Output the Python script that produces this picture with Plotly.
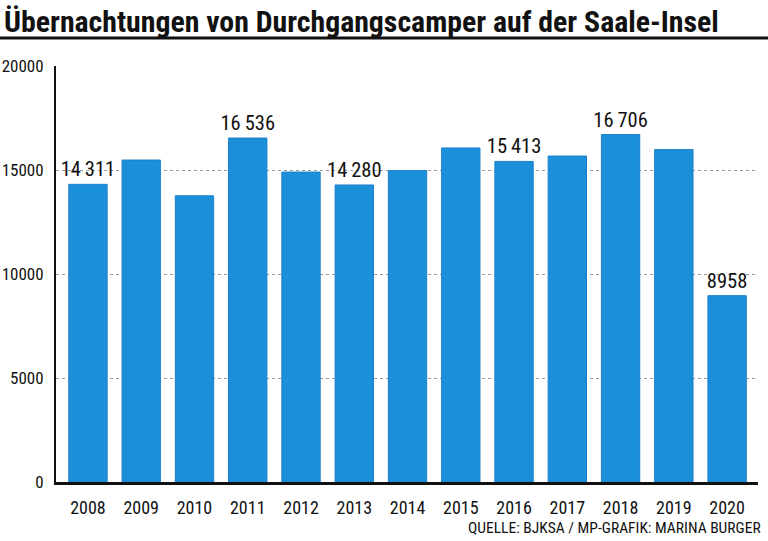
import plotly.graph_objects as go

years = ["2008", "2009", "2010", "2011", "2012", "2013", "2014",
         "2015", "2016", "2017", "2018", "2019", "2020"]
values = [14311, 15480, 13760, 16536, 14900, 14280, 14970,
          16060, 15413, 15670, 16706, 15980, 8958]
labelled = ["2008", "2011", "2013", "2016", "2018", "2020"]
y_ticks = [0, 5000, 10000, 15000, 20000]

title = "Übernachtungen von Durchgangscamper auf der Saale-Insel"
source = "QUELLE: BJKSA / MP-GRAFIK: MARINA BURGER"

FONT = "Liberation Sans Narrow, Roboto Condensed, Arial Narrow, sans-serif"

PW, PH = 702, 416  # plot area size in px
ML, MB = 56, 59


def fmt(v):
    s = f"{v:,}".replace(",", "\u2009")
    return s if v >= 10000 else str(v)


texts = [fmt(v) if y in labelled else "" for y, v in zip(years, values)]

fig = go.Figure(go.Bar(
    x=years, y=values, text=texts, textposition="outside",
    constraintext="none", cliponaxis=False,
    textfont=dict(family=FONT, size=20.5, color="#111"),
    marker=dict(color="#1b90d8", line=dict(color="#1a7fcf", width=1)),
    width=0.72, hoverinfo="skip",
))

fig.update_layout(
    width=768, height=541,
    margin=dict(l=ML, r=10, t=66, b=MB, autoexpand=False),
    paper_bgcolor="white", plot_bgcolor="white",
    showlegend=False,
    font=dict(family=FONT, color="#111"),
    xaxis=dict(type="category", range=[-0.6, 12.58], showgrid=False,
               showline=True, linecolor="#111", linewidth=3,
               ticks="", tickfont=dict(size=18), ticklabelstandoff=7,
               automargin=False, fixedrange=True),
    yaxis=dict(range=[0, 20000], tickvals=y_ticks,
               ticktext=[str(t) for t in y_ticks],
               showgrid=True, gridcolor="#9a9a9a", gridwidth=1,
               griddash="dot", zeroline=False,
               showline=True, linecolor="#111", linewidth=2,
               ticks="", tickfont=dict(size=17), ticklabelstandoff=7,
               automargin=False, fixedrange=True),
    shapes=[dict(type="line", xref="paper", yref="paper",
                 x0=-ML / PW, x1=(PW + 10) / PW,
                 y0=(541 - MB - 38) / PH, y1=(541 - MB - 38) / PH,
                 line=dict(color="#111", width=3))],
    annotations=[
        dict(text="<b>" + title + "</b>", xref="paper", yref="paper",
             x=-(ML - 2) / PW, y=(541 - MB - 2) / PH, xanchor="left",
             yanchor="top", showarrow=False,
             font=dict(family=FONT, size=29.8, color="#111")),
        dict(text=source, xref="paper", yref="paper",
             x=(PW + 5) / PW, y=-(528 - (541 - MB)) / PH, xanchor="right",
             yanchor="middle", showarrow=False,
             font=dict(family=FONT, size=15.5, color="#111")),
    ],
)

fig.write_html(
    "out.html",
    config={"displayModeBar": False, "staticPlot": True},
    post_script="document.body.style.margin='0';document.body.style.overflow='hidden';",
)
